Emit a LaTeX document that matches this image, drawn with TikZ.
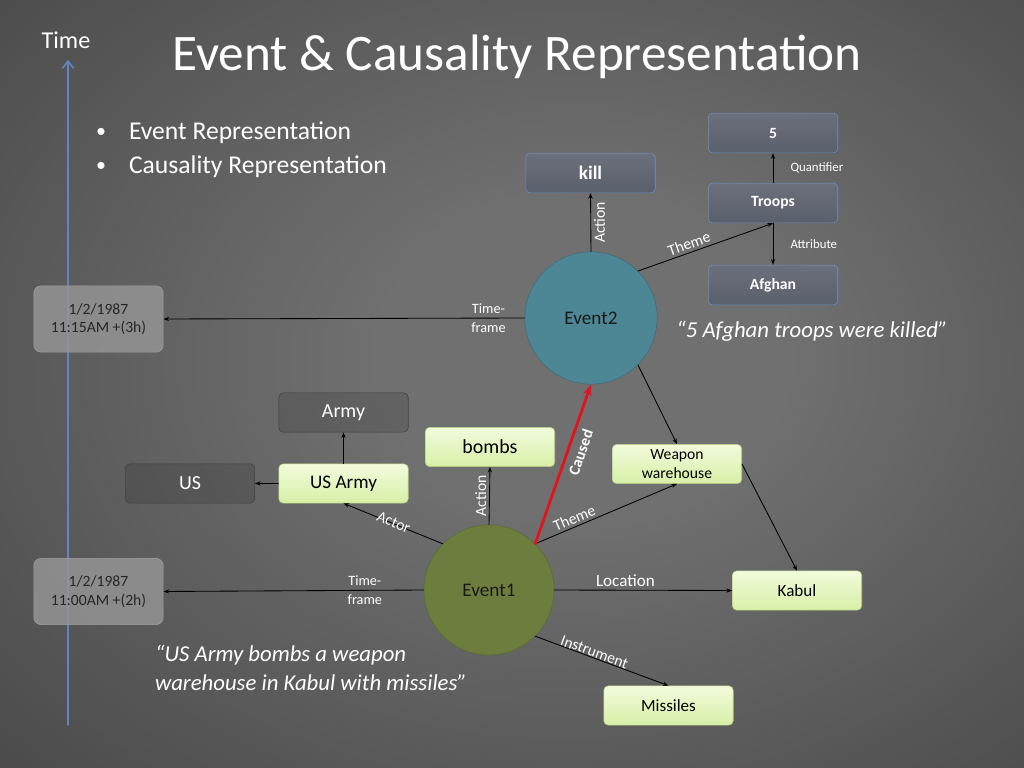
\documentclass[tikz,border=0pt]{standalone}
\usepackage{fontspec}
\setmainfont{Carlito}
\usetikzlibrary{arrows.meta,positioning,calc,shapes.geometric}

\definecolor{bgin}{HTML}{707070}
\definecolor{bgmid}{HTML}{3A3A3A}
\definecolor{bgout}{HTML}{161616}
\definecolor{axisblue}{HTML}{5F86C4}
\definecolor{conceptline}{HTML}{7090C0}
\definecolor{concepttop}{HTML}{6C707C}
\definecolor{conceptbot}{HTML}{5A5F6C}
\definecolor{argline}{HTML}{B5CC7C}
\definecolor{argtop}{HTML}{F2FBDD}
\definecolor{argbot}{HTML}{D8EFA6}
\definecolor{evtwo}{HTML}{4D8796}
\definecolor{evone}{HTML}{6C7D3E}
\definecolor{causered}{HTML}{E0141C}

\pgfdeclareradialshading{slidebg}{\pgfpoint{4bp}{2bp}}{color(0bp)=(bgin);color(10bp)=(bgin);color(50bp)=(bgmid);color(72bp)=(bgout)}

\tikzset{
  concept/.style={draw=conceptline,rounded corners=3pt,top color=concepttop,bottom color=conceptbot,
    text=white,font=\bfseries\fontsize{11}{13}\selectfont,minimum width=91pt,minimum height=28pt},
  argbox/.style={draw=argline,rounded corners=3pt,top color=argtop,bottom color=argbot,
    text=black,font=\fontsize{13.5}{16}\selectfont,minimum width=91pt,minimum height=27.5pt},
  entbox/.style={draw=black!75,rounded corners=3pt,fill=black,fill opacity=0.12,text opacity=1,
    text=white,font=\fontsize{14}{16}\selectfont,minimum width=91pt,minimum height=27.5pt},
  datebox/.style={draw=white!62!black,rounded corners=5pt,fill=white!58!black,fill opacity=0.85,text opacity=1,
    text=black!85,font=\fontsize{11}{13}\selectfont,align=center,minimum width=91pt,minimum height=46.5pt},
  event/.style={circle,inner sep=0pt,font=\fontsize{13.5}{16}\selectfont,text=black!90},
  rel/.style={-{Stealth[length=4pt,width=3pt]},black,line width=0.6pt},
  lab/.style={text=white,font=\fontsize{11}{13}\selectfont,inner sep=2pt},
  quote/.style={text=white,font=\itshape\fontsize{16}{20}\selectfont},
}

\begin{document}
\begin{tikzpicture}[x=0.703125pt,y=-0.703125pt,line join=round,line cap=round]
  \useasboundingbox (0,0) rectangle (1024,768);
  \shade[shading=slidebg] (0,0) rectangle (1024,768);

  % heading and time axis
  \node[text=white,font=\fontsize{36}{40}\selectfont] (title) at (517,57) {Event \& Causality Representation};
  \node[text=white,font=\fontsize{17}{20}\selectfont] (timelbl) at (66,40) {Time};
  \coordinate (tbot) at (68,725);
  \coordinate (ttop) at (68,60);
  \draw[axisblue,line width=1.1pt,-{Straight Barb[length=5pt,width=8pt]}] (tbot) -- (ttop);

  \node[text=white,font=\fontsize{14}{21}\selectfont] (b1) at (101,133) {\textbullet};
  \node[text=white,font=\fontsize{18}{21}\selectfont,anchor=west] (b1t) at (124,133) {Event Representation};
  \node[text=white,font=\fontsize{14}{21}\selectfont] (b2) at (101,167) {\textbullet};
  \node[text=white,font=\fontsize{18}{21}\selectfont,anchor=west] (b2t) at (124,167) {Causality Representation};

  % event 2
  \node[event,fill=evtwo,draw=evtwo!80!black,minimum size=93pt] (event2) at (591,318) {Event2};
  \node[concept,font=\bfseries\fontsize{13.5}{16}\selectfont] (kill) at (590.5,173) {kill};
  \node[concept] (five) at (773,133) {5};
  \node[concept] (troops) at (773,203) {Troops};
  \node[concept] (afghan) at (773,285) {Afghan};
  \node[datebox] (date2) at (98.5,319) {1/2/1987\\11:15AM +(3h)};

  \draw[rel] (event2.north) -- (kill.south) node[lab,midway,rotate=90,anchor=north] {Action};
  \draw[rel] (event2.45) -- (troops.south) node[lab,pos=0.4,sloped,above] {Theme};
  \draw[rel] (troops.north) -- (five.south) node[lab,midway,right=10pt,font=\fontsize{9}{11}\selectfont] {Quantifier};
  \draw[rel] (troops.south) -- (afghan.north) node[lab,midway,right=10pt,font=\fontsize{9}{11}\selectfont] {Attribute};
  \draw[rel] (event2.west) -- (date2.east) node[lab,pos=0.1,align=center,font=\fontsize{10}{13}\selectfont] {Time-\\frame};

  \node[quote] (quote2) at (812,331) {``5 Afghan troops were killed''};

  % event 1
  \node[event,fill=evone,draw=evone!85!black,minimum size=91.5pt] (event1) at (489,590) {Event1};
  \node[entbox] (army) at (343.5,412.5) {Army};
  \node[entbox] (us) at (190,483.5) {US};
  \node[argbox] (usarmy) at (343.5,483.5) {US Army};
  \node[argbox,font=\fontsize{14}{16}\selectfont] (bombs) at (490,447) {bombs};
  \node[argbox,align=center,font=\fontsize{11}{13}\selectfont] (weapon) at (677,464) {Weapon\\warehouse};
  \node[argbox,font=\fontsize{12}{14}\selectfont] (kabul) at (797,590.5) {Kabul};
  \node[argbox,font=\fontsize{12}{14}\selectfont] (missiles) at (668.5,705.5) {Missiles};
  \node[datebox] (date1) at (98.5,591.5) {1/2/1987\\11:00AM +(2h)};

  \draw[rel] (usarmy) -- (army);
  \draw[rel] (usarmy) -- (us);
  \draw[rel] (event1.135) -- (usarmy.south) node[lab,midway,sloped,above=-5pt] {Actor};
  \draw[rel] (event1.north) -- (bombs.south) node[lab,midway,rotate=90,anchor=south] {Action};
  \draw[rel] (event1.45) -- (weapon.south) node[lab,pos=0.3,sloped,above] {Theme};
  \draw[rel] (event2.-45) -- (weapon.north);
  \draw[rel] (weapon.east) -- (kabul.north);
  \draw[rel] (event1.east) -- (kabul.west) node[lab,pos=0.4,above,font=\fontsize{12}{14}\selectfont] {Location};
  \draw[rel] (event1.-45) -- (missiles.north) node[lab,pos=0.43,sloped,above=-2pt] {Instrument};
  \draw[rel] (event1.west) -- (date1.east) node[lab,pos=0.226,align=center,font=\fontsize{10}{13}\selectfont] {Time-\\frame};
  \draw[causered,line width=2pt,-{Stealth[length=8pt,width=6pt]}] (event1.45) -- (event2.south)
    node[lab,pos=0.6,sloped,below=2pt,font=\bfseries\fontsize{11}{13}\selectfont] {Caused};

  \node[quote,align=left,anchor=west] (quote1) at (150,668) {``US Army bombs a weapon\\warehouse in Kabul with missiles''};
\end{tikzpicture}
\end{document}
